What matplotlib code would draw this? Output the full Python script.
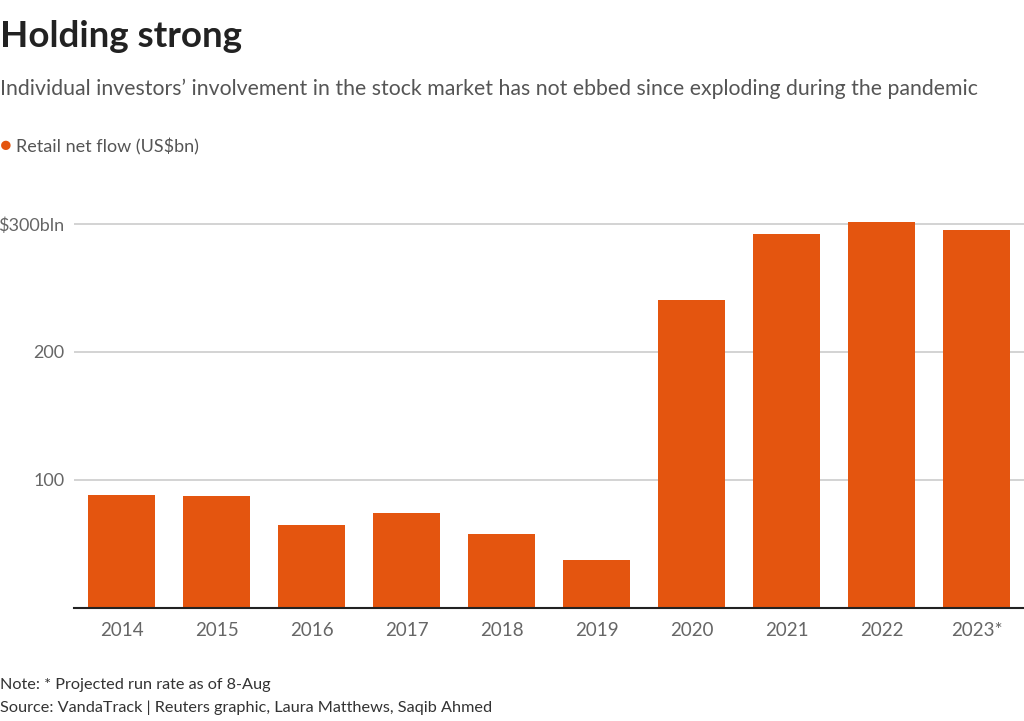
import matplotlib.pyplot as plt

years = ["2014", "2015", "2016", "2017", "2018", "2019", "2020", "2021", "2022", "2023*"]
flows = [88, 87, 65, 74, 58, 37, 240.5, 292.5, 301.5, 295.5]
yticks = [100, 200, 300]
ylabels = ["100", "200", "$300bln"]

orange = "#e4550f"
grey = "#666666"

plt.rcParams['font.family'] = ['Lato', 'DejaVu Sans']

fig = plt.figure(figsize=(10.24, 7.21), dpi=100)
ax = fig.add_axes([74/1024, 1-607.7/721, 1-74/1024, (607.7-211.2)/721])

ax.bar(range(len(years)), flows, width=0.7, color=orange, zorder=2)
ax.set_xlim(-0.5, len(years)-0.5)
ax.set_ylim(0, 310)

ax.set_yticks(yticks)
ax.set_yticklabels(ylabels)
ax.set_xticks(range(len(years)))
ax.set_xticklabels(years)
ax.tick_params(axis='y', length=0, pad=7, labelsize=13, labelcolor=grey)
ax.tick_params(axis='x', length=0, pad=10, labelsize=13.5, labelcolor=grey)
ax.grid(axis='y', color='#cccccc', linewidth=1.2, zorder=0)
for s in ['top', 'right', 'left']:
    ax.spines[s].set_visible(False)
ax.spines['bottom'].set_color('#222222')
ax.spines['bottom'].set_linewidth(1.5)
ax.spines['bottom'].set_zorder(3)

fig.text(0.0, 1-47/721, "Holding strong", fontsize=26.5, fontweight='bold', color='#222222', va='baseline')
fig.text(0.0, 1-95/721, "Individual investors\u2019 involvement in the stock market has not ebbed since exploding during the pandemic",
         fontsize=15.3, color='#555555', va='baseline')
fig.text(6/1024, 1-146/721, "\u25cf", fontsize=14, color=orange, va='center', ha='center')
fig.text(16/1024, 1-152/721, "Retail net flow (US$bn)", fontsize=13, color='#555555', va='baseline')
fig.text(0.0, 1-689/721, "Note: * Projected run rate as of 8-Aug", fontsize=11.7, color='#333333', va='baseline')
fig.text(0.0, 1-712/721, "Source: VandaTrack | Reuters graphic, Laura Matthews, Saqib Ahmed", fontsize=11.7, color='#333333', va='baseline')

fig.savefig("out.png", dpi=100)
